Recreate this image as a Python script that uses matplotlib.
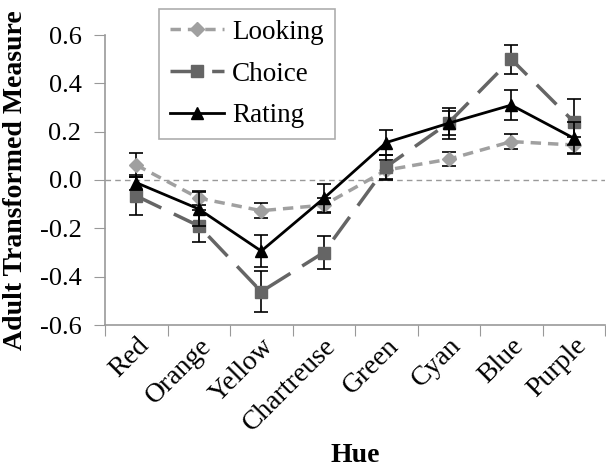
import matplotlib
matplotlib.use("Agg")
import matplotlib.pyplot as plt
from matplotlib.lines import Line2D
import numpy as np

hues = ["Red", "Orange", "Yellow", "Chartreuse", "Green", "Cyan", "Blue", "Purple"]
looking = [0.062, -0.075, -0.127, -0.104, 0.041, 0.086, 0.159, 0.145]
looking_err = [0.05, 0.03, 0.03, 0.03, 0.04, 0.03, 0.03, 0.035]
choice = [-0.066, -0.19, -0.462, -0.30, 0.055, 0.237, 0.50, 0.241]
choice_err = [0.08, 0.065, 0.085, 0.07, 0.05, 0.05, 0.06, 0.095]
rating = [-0.011, -0.12, -0.294, -0.076, 0.155, 0.235, 0.31, 0.173]
rating_err = [0.03, 0.07, 0.065, 0.06, 0.052, 0.065, 0.062, 0.067]
yticks = [0.6, 0.4, 0.2, 0.0, -0.2, -0.4, -0.6]

plt.rcParams['font.family'] = ['Liberation Serif', 'DejaVu Serif']

fig = plt.figure(figsize=(6.06, 4.71), dpi=100)
ax = fig.add_axes([105/606, 146/471, 500/606, 290/471])

x = np.arange(len(hues)) + 0.5
ax.axhline(0, color='#999999', lw=1, ls=(0, (4, 3)), zorder=1)

ebkw = dict(ecolor='black', elinewidth=1.2, capsize=5, capthick=1.2)
styles = {
    'Looking': dict(color='#a0a0a0', lw=2.5, ls=(0, (3, 2)), marker='D', ms=7),
    'Choice': dict(color='#656565', lw=2.5, ls=(0, (8, 4)), marker='s', ms=8),
    'Rating': dict(color='black', lw=2, ls='-', marker='^', ms=8),
}
series = [('Looking', looking, looking_err, 3), ('Choice', choice, choice_err, 4),
          ('Rating', rating, rating_err, 5)]
handles = []
for name, vals, errs, z in series:
    st = styles[name]
    ax.errorbar(x, vals, yerr=errs, color=st['color'], lw=st['lw'], ls=st['ls'],
                marker=st['marker'], ms=st['ms'], mfc=st['color'], mec=st['color'],
                zorder=z, **ebkw)
    handles.append(Line2D([], [], color=st['color'], lw=st['lw'], ls=st['ls'],
                          marker=st['marker'], ms=st['ms'], mfc=st['color'],
                          mec=st['color'], label=name))

ax.set_xlim(0, len(hues))
ax.set_ylim(-0.6, 0.6)
ax.set_xticks(np.arange(len(hues) + 1))
ax.set_xticklabels([])
ax.set_xticks(x, minor=True)
ax.set_xticklabels(hues, minor=True, rotation=45, ha='right', va='top',
                   rotation_mode='anchor', fontsize=20)
ax.tick_params(axis='x', which='minor', length=0, pad=6)
ax.tick_params(axis='x', which='major', length=8, color='#999999', direction='out')
ax.set_yticks(yticks)
ax.set_yticklabels([f"{v:.1f}" for v in yticks], fontsize=19)
ax.tick_params(axis='y', length=8, color='#999999', direction='out', pad=9)

for s in ['top', 'right']:
    ax.spines[s].set_visible(False)
for s in ['left', 'bottom']:
    ax.spines[s].set_color('#999999')
    ax.spines[s].set_linewidth(1.2)

ax.set_ylabel("Adult Transformed Measure", fontsize=20, fontweight='bold', labelpad=8)
ax.set_xlabel("Hue", fontsize=20, fontweight='bold', labelpad=5)

leg = ax.legend(handles=handles, loc='upper left', bbox_to_anchor=(159/606, 462/471),
                bbox_transform=fig.transFigure, borderaxespad=0,
                fontsize=19.5, frameon=True, fancybox=False, edgecolor='#999999',
                handlelength=2.0, borderpad=0.4, labelspacing=0.62, handletextpad=0.3)
leg.get_frame().set_linewidth(1.2)

fig.savefig("out.png", dpi=100)
